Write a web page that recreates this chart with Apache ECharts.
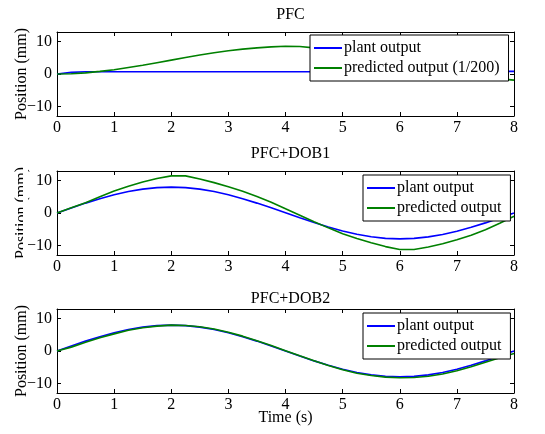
<!DOCTYPE html>
<html>
<head>
<meta charset="utf-8">
<script src="https://cdn.jsdelivr.net/npm/echarts@6/dist/echarts.min.js"></script>
<style>html,body{margin:0;padding:0;background:#fff;}#c{width:545px;height:434px;}</style>
</head>
<body>
<div id="c"></div>
<script>
// ---- data ----
var time = [0,0.25,0.5,0.75,1,1.25,1.5,1.75,2,2.25,2.5,2.75,3,3.25,3.5,3.75,4,4.25,4.5,4.75,5,5.25,5.5,5.75,6,6.25,6.5,6.75,7,7.25,7.5,7.75,8];
var titles = ['PFC', 'PFC+DOB1', 'PFC+DOB2'];
var plantName = 'plant output';
var predNames = ['predicted output (1/200)', 'predicted output', 'predicted output'];
var yTicks = [-10, 0, 10];
var xTicks = [0,1,2,3,4,5,6,7,8];

var pfcPlant = [0,0.5,0.7,0.7,0.7,0.7,0.7,0.7,0.7,0.7,0.7,0.7,0.7,0.7,0.7,0.7,0.7,0.7,0.7,0.7,0.7,0.7,0.7,0.7,0.7,0.7,0.7,0.7,0.75,0.75,0.8,0.8,0.8];
var pfcPred  = [0,0.1,0.35,0.8,1.3,2.0,2.7,3.5,4.3,5.1,5.9,6.6,7.2,7.7,8.1,8.4,8.6,8.5,8.1,7.6,7.0,6.3,5.5,4.6,3.7,2.8,1.9,1.0,0.2,-0.5,-1.1,-1.5,-1.9];

var dob1Plant = [0,1.56,3.06,4.44,5.66,6.65,7.39,7.85,8,7.85,7.39,6.65,5.66,4.44,3.06,1.6,0.1,-1.45,-2.95,-4.35,-5.6,-6.6,-7.35,-7.85,-8,-7.85,-7.39,-6.65,-5.66,-4.44,-3.06,-1.56,0];
var dob1Pred  = [0,1.6,3.2,5.0,6.8,8.3,9.6,10.7,11.5,11.5,10.5,9.4,8.1,6.7,5.1,3.3,1.3,-0.7,-2.7,-4.6,-6.4,-7.9,-9.2,-10.4,-11.3,-11.3,-10.5,-9.5,-8.3,-6.9,-5.2,-3.2,-1.0];

var dob2Plant = [0,1.56,3.06,4.44,5.66,6.65,7.39,7.85,8,7.85,7.39,6.65,5.66,4.44,3.06,1.56,0,-1.56,-3.06,-4.44,-5.66,-6.65,-7.39,-7.85,-8,-7.85,-7.39,-6.65,-5.66,-4.44,-3.06,-1.56,0];
var dob2Pred  = [0,1.2,2.7,4.1,5.3,6.4,7.2,7.7,8.0,7.9,7.5,6.8,5.8,4.6,3.2,1.7,0.1,-1.5,-3.0,-4.5,-5.8,-6.9,-7.6,-8.1,-8.3,-8.2,-7.8,-7.1,-6.1,-4.9,-3.5,-2.1,-0.8];

var plantSets = [pfcPlant, dob1Plant, dob2Plant];
var predSets = [pfcPred, dob1Pred, dob2Pred];

// ---- layout ----
var FONT = 'Liberation Serif';
var gridTops = [32, 171, 309];
var titleTops = [1.5, 141, 286];
var gridH = 84;
var legendPos = [{left: 310, top: 35}, {left: 363, top: 175}, {left: 363, top: 313}];

function pairs(xs, ys) { return xs.map(function (x, i) { return [x, ys[i]]; }); }
function fmtY(v) { return v < 0 ? '\u2212' + Math.abs(v) : String(v); }

var option = {
  animation: false,
  backgroundColor: '#fff',
  textStyle: {fontFamily: FONT},
  title: [], grid: [], xAxis: [], yAxis: [], series: [], legend: [],
  graphic: []
};

for (var g = 0; g < 3; g++) {
  option.grid.push({left: 57, right: 31, top: gridTops[g], height: gridH, show: false, containLabel: false, outerBoundsMode: 'none'});
  option.title.push({
    text: titles[g], left: 285.5, textAlign: 'center', top: titleTops[g],
    textStyle: {fontFamily: FONT, fontSize: 16, fontWeight: 'normal', color: '#000'}
  });
  var common = {
    gridIndex: g, type: 'value', min: 0, max: 8, interval: 1,
    axisLine: {show: true, onZero: false, lineStyle: {color: '#000', width: 1}},
    axisTick: {show: true, inside: true, length: 4, lineStyle: {color: '#000'}},
    splitLine: {show: false}
  };
  var xb = Object.assign({}, common, {
    position: 'bottom',
    axisLabel: {show: true, color: '#000', fontFamily: FONT, fontSize: 16, margin: 4}
  });
  if (g === 2) {
    xb.name = 'Time (s)';
    xb.nameLocation = 'middle';
    xb.nameGap = 17;
    xb.nameMoveOverlap = false;
    xb.nameTextStyle = {fontFamily: FONT, fontSize: 16, color: '#000'};
  }
  option.xAxis.push(xb);
  option.xAxis.push(Object.assign({}, common, {position: 'top', axisLabel: {show: false}}));

  var ycommon = {
    gridIndex: g, type: 'value', min: -13, max: 13,
    axisLine: {show: true, onZero: false, lineStyle: {color: '#000', width: 1}},
    axisTick: {show: true, inside: true, length: 4, customValues: yTicks, lineStyle: {color: '#000'}},
    splitLine: {show: false}
  };
  option.yAxis.push(Object.assign({}, ycommon, {
    position: 'left',
    axisLabel: {show: true, customValues: yTicks, formatter: fmtY, color: '#000', fontFamily: FONT, fontSize: 16, margin: 5},
    name: 'Position (mm)', nameLocation: 'middle', nameGap: 27, nameRotate: 90, nameMoveOverlap: false,
    nameTextStyle: {fontFamily: FONT, fontSize: 16, color: '#000'}
  }));
  option.yAxis.push(Object.assign({}, ycommon, {position: 'right', axisLabel: {show: false}}));

  option.series.push({
    name: plantName, type: 'line', xAxisIndex: 2 * g, yAxisIndex: 2 * g,
    data: pairs(time, plantSets[g]), showSymbol: false, symbol: 'none',
    lineStyle: {color: '#0000ff', width: 1.6}, itemStyle: {color: '#0000ff'}, z: 2
  });
  option.series.push({
    name: predNames[g], type: 'line', xAxisIndex: 2 * g, yAxisIndex: 2 * g,
    data: pairs(time, predSets[g]), showSymbol: false, symbol: 'none',
    lineStyle: {color: '#008000', width: 1.6}, itemStyle: {color: '#008000'}, z: 3
  });
  option.legend.push({
    data: [plantName, predNames[g]],
    orient: 'vertical', left: legendPos[g].left, top: legendPos[g].top,
    icon: 'rect', itemWidth: 28, itemHeight: 2, itemGap: 4,
    padding: [5, 9, 5, 4], borderColor: '#000', borderWidth: 1, backgroundColor: '#fff',
    textStyle: {fontFamily: FONT, fontSize: 16, color: '#000', padding: [0, 0, 0, -3]},
    selectedMode: false, z: 10
  });
}

// partially hidden y-label of the middle subplot (as in the reference)
option.graphic.push({type: 'rect', shape: {x: 23, y: 160, width: 5, height: 106}, style: {fill: '#fff'}, z: 100, silent: true});

var chart = echarts.init(document.getElementById('c'), null, {renderer: 'canvas'});
chart.setOption(option);
</script>
</body>
</html>
